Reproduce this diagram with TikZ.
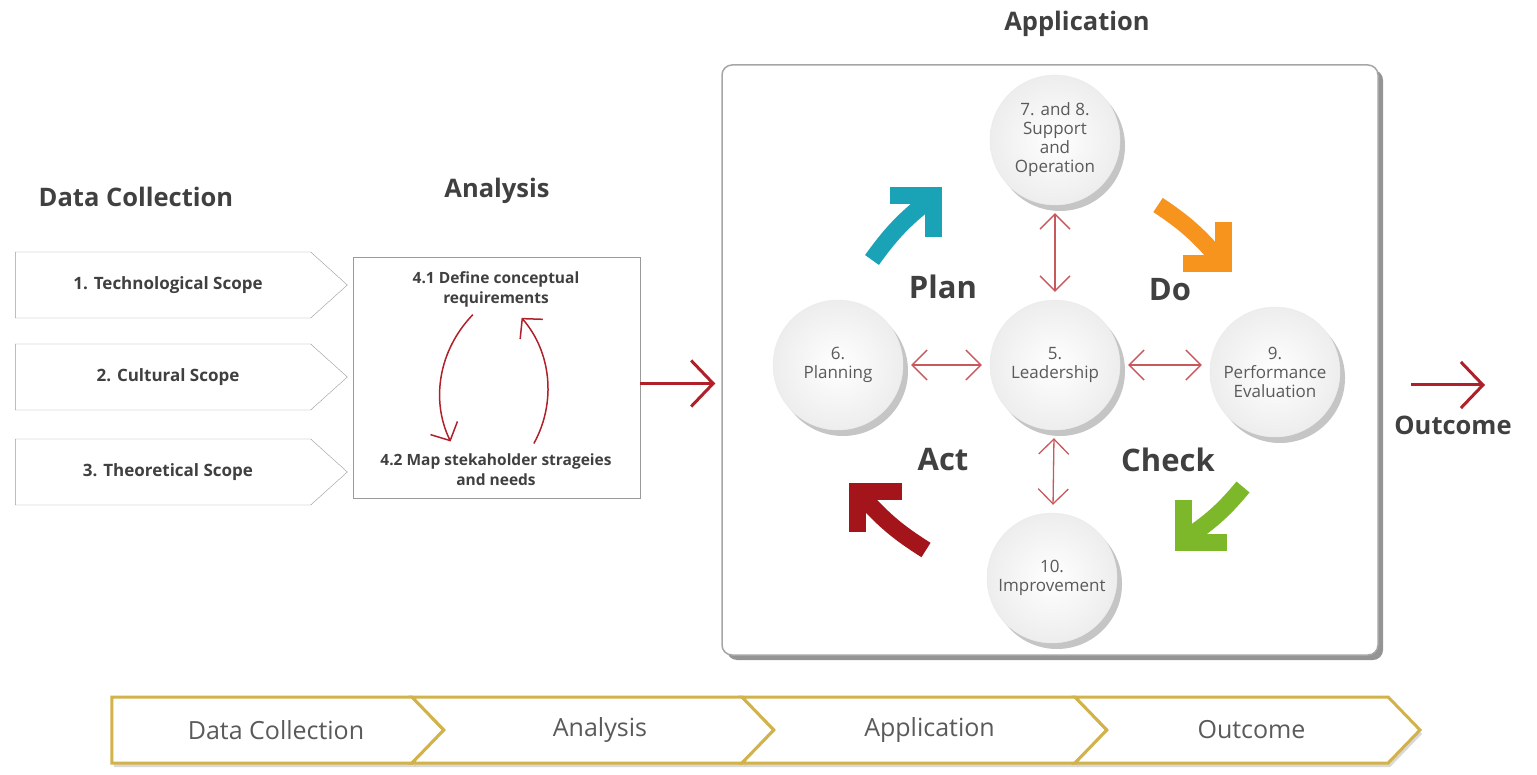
\documentclass[tikz,border=0pt]{standalone}
\usepackage{fontspec}
\setmainfont{Open Sans}
\usetikzlibrary{shapes,arrows.meta,positioning,calc,shadows}

\definecolor{txtgray}{HTML}{404040}
\definecolor{circgray}{HTML}{5A5A5A}
\definecolor{boxgray}{HTML}{9A9A9A}
\definecolor{arrred}{HTML}{B0202A}
\definecolor{thinred}{HTML}{C8585C}
\definecolor{gold}{HTML}{D2B24A}
\definecolor{pdcateal}{HTML}{1AA2B6}
\definecolor{pdcaorange}{HTML}{F7941E}
\definecolor{pdcagreen}{HTML}{7DB82A}
\definecolor{pdcared}{HTML}{A3151A}

\begin{document}
\begin{tikzpicture}[x=1pt,y=-1pt,
    % Define styles for the different parts
    heading/.style={
        font=\bfseries\fontsize{25.5}{30}\selectfont,
        text=txtgray
    },
    scopebox/.style={
        signal,
        signal to=east,
        signal pointer angle=84,
        draw=boxgray,
        fill=white,
        minimum width=332,
        minimum height=66,
        font=\bfseries\fontsize{17}{20}\selectfont,
        text=txtgray
    },
    anabox/.style={
        rectangle,
        draw=boxgray,
        minimum width=287,
        minimum height=241
    },
    anatext/.style={
        align=center,
        font=\bfseries\fontsize{15.5}{20}\selectfont,
        text=txtgray
    },
    appbox/.style={
        rectangle,
        rounded corners=10,
        draw=gray!70,
        line width=1.5,
        fill=white,
        minimum width=656,
        minimum height=590,
        drop shadow={shadow xshift=5pt, shadow yshift=-5pt, opacity=0.6, fill=black!70}
    },
    circ/.style={
        circle,
        minimum size=130,
        inner sep=0,
        align=center,
        shade,
        inner color=white,
        outer color=gray!14,
        draw=gray!15,
        drop shadow={shadow xshift=5pt, shadow yshift=-6pt, opacity=0.45},
        text=circgray,
        font=\fontsize{17}{19}\selectfont
    },
    pdcalabel/.style={
        font=\bfseries\fontsize{31}{36}\selectfont,
        text=txtgray
    },
    pdca/.style={
        line width=17,
        line join=miter
    },
    chev/.style={
        signal,
        signal to=east,
        signal pointer angle=92,
        draw=gold,
        line width=3,
        fill=white,
        minimum height=66,
        font=\fontsize{25}{30}\selectfont,
        text=circgray,
        drop shadow={shadow xshift=2pt, shadow yshift=-4pt, opacity=0.3}
    },
    chevin/.style={
        chev,
        signal from=west
    },
    bigred/.style={
        draw=arrred,
        line width=3,
        -{Straight Barb[length=22pt,width=46pt]}
    },
    dblred/.style={
        draw=thinred,
        line width=1.3,
        {Straight Barb[length=15pt,width=30pt]}-{Straight Barb[length=15pt,width=30pt]},
        shorten <=8pt,
        shorten >=8pt
    },
    loopred/.style={
        draw=arrred,
        line width=1.5,
        -{Straight Barb[length=14pt,width=30pt]}
    }
]
\useasboundingbox (0,0) rectangle (1537,775);

% Headings
\node[heading] (hdata) at (136,197) {Data Collection};
\node[heading] (hana) at (497,191) {Analysis};
\node[heading] (happ) at (1077,24) {Application};

% Data collection
\node[scopebox] (tech) at (163,285) {\hspace{10pt}1. Technological Scope};
\node[scopebox] (cult) at (163,377) {\hspace{10pt}2. Cultural Scope};
\node[scopebox] (theo) at (163,472) {\hspace{10pt}3. Theoretical Scope};

% Analysis
\node[anabox] (ana) at (496.5,377.5) {};
\node[anatext] (def) at (496,289) {4.1 Define conceptual\\requirements};
\node[anatext] (mapn) at (496,470) {4.2 Map stekaholder strageies\\and needs};
\draw[loopred, shorten <=6pt, shorten >=10pt] ([xshift=-19pt]def.south) to[bend right=35] ([xshift=-41pt]mapn.north);
\draw[loopred, shorten <=8pt, shorten >=10pt] ([xshift=34pt]mapn.north) to[bend right=35] ([xshift=19pt]def.south);

% Application
\node[appbox] (app) at (1050,360) {};
\node[circ] (supp) at (1055,140) {7. and 8.\\Support\\and\\Operation};
\node[circ] (lead) at (1055,365) {5.\\Leadership};
\node[circ] (plng) at (838,365) {6.\\Planning};
\node[circ] (perf) at (1275,372) {9.\\Performance\\Evaluation};
\node[circ] (impr) at (1052,578) {10.\\Improvement};

\draw[dblred] (lead) -- (supp);
\draw[dblred] (lead) -- (plng);
\draw[dblred] (lead) -- (lead -| perf.west);
\draw[dblred] (lead) -- (impr);

\node[pdcalabel] (plan) at (943,287) {Plan};
\node[pdcalabel] (do) at (1170,290) {Do};
\node[pdcalabel] (act) at (943,460) {Act};
\node[pdcalabel] (check) at (1168,460) {Check};

% PDCA arrows
\draw[pdca, pdcateal] (872,260) to[bend left=8] (929,200);
\draw[pdca, pdcateal] (890,195.5) -- (933.5,195.5) -- (933.5,237);
\draw[pdca, pdcaorange] (1158,205) to[bend left=8] (1219,259);
\draw[pdca, pdcaorange] (1223.5,222) -- (1223.5,263.5) -- (1183,263.5);
\draw[pdca, pdcagreen] (1243,487) to[bend left=8] (1188,537);
\draw[pdca, pdcagreen] (1183.5,500) -- (1183.5,542) -- (1227,542);
\draw[pdca, pdcared] (926,550) to[bend left=8] (862,496);
\draw[pdca, pdcared] (902,491) -- (857,491) -- (857,532);

% Flow arrows
\draw[bigred] ([yshift=-6pt]ana.east) -- ([yshift=-6pt, xshift=-6pt]ana.east -| app.west);
\node[heading] (outlbl) at (1453,425) {Outcome};
\coordinate (outtip) at (1485,385);
\draw[bigred] (outtip -| app.east) ++(32,0) -- (outtip);

% Bottom bar
\node[chev, minimum width=332] (bdata) at (262,730) {\hspace{28pt}Data Collection};
\node[chevin, minimum width=362] (bana) at (593,730) {\hspace{14pt}Analysis};
\node[chevin, minimum width=365] (bapp) at (924.5,730) {\hspace{10pt}Application};
\node[chevin, minimum width=345] (bout) at (1247.5,730) {\hspace{8pt}Outcome};

\end{tikzpicture}
\end{document}
